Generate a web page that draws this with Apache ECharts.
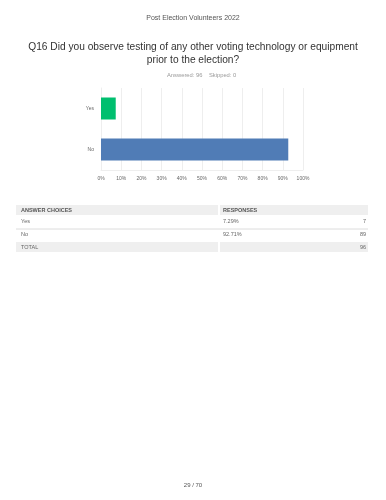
<!DOCTYPE html>
<html>
<head>
<meta charset="utf-8">
<script src="https://cdn.jsdelivr.net/npm/echarts@6/dist/echarts.min.js"></script>
<style>
html, body { margin: 0; padding: 0; background: #fff; }
#main { width: 386px; height: 500px; }
</style>
</head>
<body>
<div id="main"></div>
<script>
var choices = ['Yes', 'No'];
var percents = [7.29, 92.71];
var counts = [7, 89];
var total = 96;
var skipped = 0;
var barColors = ['#00bf6f', '#507cb6'];

var myChart = echarts.init(document.getElementById('main'));
var font = 'Liberation Sans, Arial, sans-serif';

// table drawn as graphic elements
var tbl = [];
var L = 16, R = 368, C2 = 220;
tbl.push({ type: 'rect', shape: { x: L, y: 205, width: C2 - L - 2, height: 10 }, style: { fill: '#efefef' } });
tbl.push({ type: 'rect', shape: { x: C2, y: 205, width: R - C2, height: 10 }, style: { fill: '#efefef' } });
tbl.push({ type: 'text', left: L + 5, top: 207, style: { text: 'ANSWER CHOICES', fontSize: 5.5, fontWeight: 'bold', fill: '#555', fontFamily: font } });
tbl.push({ type: 'text', left: C2 + 3, top: 207, style: { text: 'RESPONSES', fontSize: 5.5, fontWeight: 'bold', fill: '#555', fontFamily: font } });
for (var i = 0; i < choices.length; i++) {
    var y = 218 + i * 13;
    tbl.push({ type: 'text', left: L + 5, top: y, style: { text: choices[i], fontSize: 5.5, fill: '#666', fontFamily: font } });
    tbl.push({ type: 'text', left: C2 + 3, top: y, style: { text: percents[i].toFixed(2) + '%', fontSize: 5.5, fill: '#666', fontFamily: font } });
    tbl.push({ type: 'text', right: 386 - R + 2, top: y, style: { text: String(counts[i]), fontSize: 5.5, fill: '#666', fontFamily: font } });
    if (i < choices.length - 1) {
        tbl.push({ type: 'line', shape: { x1: L, y1: y + 11, x2: R, y2: y + 11 }, style: { stroke: '#dcdcdc', lineWidth: 1 } });
    }
}
tbl.push({ type: 'rect', shape: { x: L, y: 242, width: C2 - L - 2, height: 10 }, style: { fill: '#efefef' } });
tbl.push({ type: 'rect', shape: { x: C2, y: 242, width: R - C2, height: 10 }, style: { fill: '#efefef' } });
tbl.push({ type: 'text', left: L + 5, top: 244, style: { text: 'TOTAL', fontSize: 5.5, fill: '#666', fontFamily: font } });
tbl.push({ type: 'text', right: 386 - R + 2, top: 244, style: { text: String(total), fontSize: 5.5, fill: '#666', fontFamily: font } });
tbl.push({ type: 'text', left: 'center', top: 482, style: { text: '29 / 70', fontSize: 6, fill: '#555', fontFamily: font } });

var option = {
    backgroundColor: '#fff',
    title: [
        {
            text: 'Post Election Volunteers 2022',
            left: 'center', top: 10,
            textStyle: { fontSize: 7, fontWeight: 'normal', color: '#555', fontFamily: font }
        },
        {
            text: 'Q16 Did you observe testing of any other voting technology or equipment',
            left: 'center', top: 37,
            textStyle: { fontSize: 10.2, fontWeight: 'normal', color: '#333', fontFamily: font }
        },
        {
            text: 'prior to the election?',
            left: 'center', top: 50,
            textStyle: { fontSize: 10.2, fontWeight: 'normal', color: '#333', fontFamily: font }
        },
        {
            text: 'Answered: ' + total + '    Skipped: ' + skipped,
            left: 162, top: 67,
            textStyle: { fontSize: 5.8, fontWeight: 'normal', color: '#999', fontFamily: font }
        }
    ],
    grid: { left: 101, right: 83, top: 88, bottom: 330 },
    xAxis: {
        type: 'value', min: 0, max: 100, interval: 10,
        axisLine: { show: true, lineStyle: { color: '#eee' } },
        axisTick: { show: false },
        splitLine: { lineStyle: { color: '#eee' } },
        axisLabel: { formatter: '{value}%', fontSize: 5, color: '#666', margin: 6, fontFamily: font }
    },
    yAxis: {
        type: 'category', data: choices, inverse: true,
        axisLine: { show: true, lineStyle: { color: '#eee' } },
        axisTick: { show: false },
        axisLabel: { fontSize: 5, color: '#666', margin: 7, fontFamily: font }
    },
    series: [{
        type: 'bar',
        barWidth: 22,
        data: percents.map(function (v, i) {
            return { value: v, itemStyle: { color: barColors[i] } };
        }),
        animation: false
    }],
    graphic: tbl
};

myChart.setOption(option);
</script>
</body>
</html>
